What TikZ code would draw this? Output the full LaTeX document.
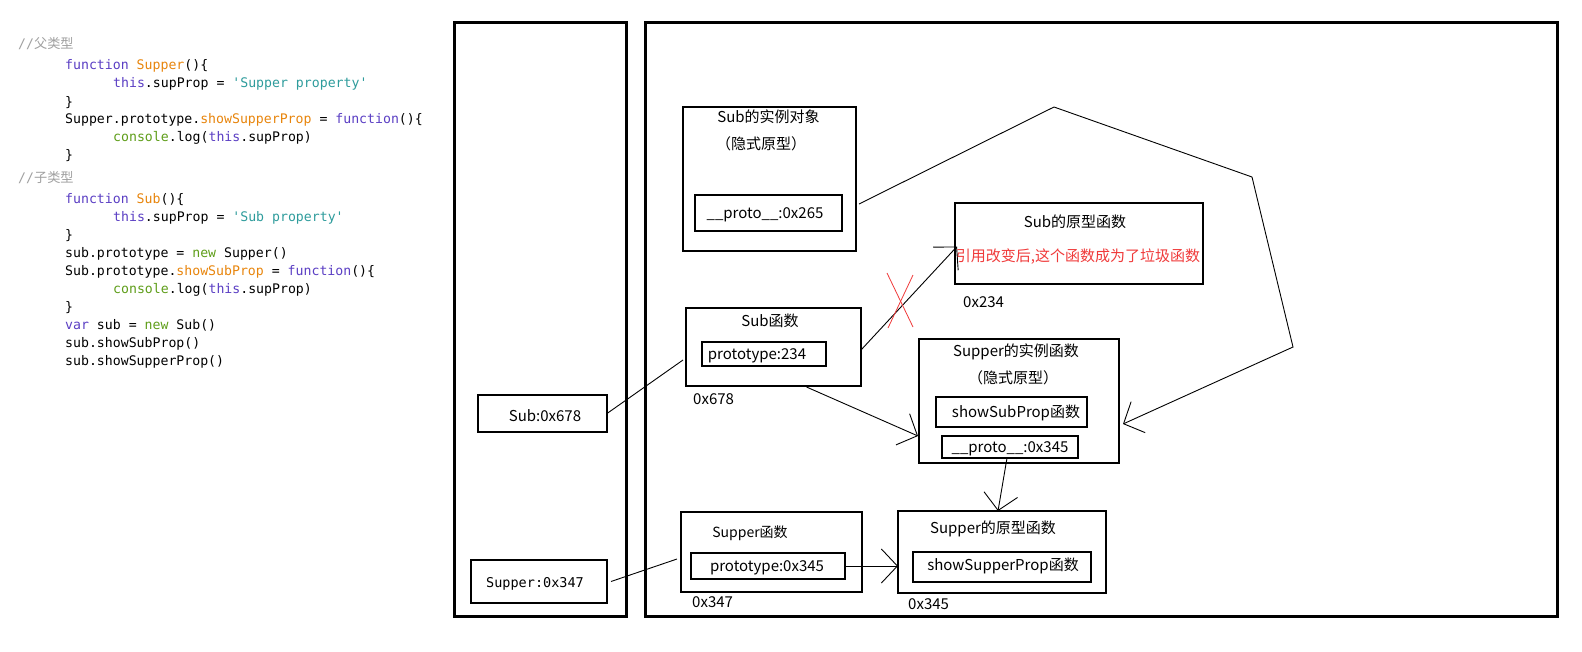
\documentclass[tikz,border=0pt]{standalone}
\usepackage{fontspec}
\setmainfont{Noto Sans CJK SC}
\newfontfamily\codefont{DejaVu Sans Mono}
\usetikzlibrary{arrows.meta,calc}

\definecolor{ckwc}{HTML}{5B3FC4}
\definecolor{cfnc}{HTML}{E8850C}
\definecolor{cstrc}{HTML}{2E9C9C}
\definecolor{cobjc}{HTML}{5F9E1A}
\definecolor{ccmtc}{HTML}{A0A0A0}
\definecolor{warnred}{HTML}{F03A3A}

\newcommand\ckw[1]{\textcolor{ckwc}{#1}}
\newcommand\cfn[1]{\textcolor{cfnc}{#1}}
\newcommand\cstr[1]{\textcolor{cstrc}{#1}}
\newcommand\cobj[1]{\textcolor{cobjc}{#1}}
\newcommand\sq{\textquotesingle}

\tikzset{
  codeline/.style={anchor=base west, inner sep=0pt, font=\codefont\fontsize{13.2}{16}\selectfont},
  cmtline/.style={codeline, text=ccmtc},
  frame/.style={draw, line width=3pt, inner sep=0pt, outer sep=0pt},
  box/.style={draw, line width=1.2pt, inner sep=0pt, outer sep=0pt},
  lbl/.style={anchor=base, inner sep=0pt, font=\fontsize{15}{18}\selectfont},
  addr/.style={anchor=base west, inner sep=0pt, font=\fontsize{15}{18}\selectfont},
  conn/.style={line width=0.9pt},
  arr/.style={conn, -{Straight Barb[length=16pt, width=34pt, line width=0.9pt]}},
  cross/.style={draw=warnred, line width=0.8pt},
}

\begin{document}
\begin{tikzpicture}[x=1pt, y=-1pt]
\useasboundingbox[fill=white] (0,0) rectangle (1582,651);

% ---- source code ----
\node[cmtline] (c1) at (18,48) {//{\rmfamily 父类型}};
\node[codeline] (c2) at (65,69) {\ckw{function} \cfn{Supper}()\{};
\node[codeline] (c3) at (113,87) {\ckw{this}.supProp = \cstr{\sq Supper property\sq}};
\node[codeline] (c4) at (65,106) {\}};
\node[codeline] (c5) at (65,123) {Supper.prototype.\cfn{showSupperProp} = \ckw{function}()\{};
\node[codeline] (c6) at (113,141) {\cobj{console}.log(\ckw{this}.supProp)};
\node[codeline] (c7) at (65,159) {\}};
\node[cmtline] (c8) at (18,182) {//{\rmfamily 子类型}};
\node[codeline] (c9) at (65,203) {\ckw{function} \cfn{Sub}()\{};
\node[codeline] (c10) at (113,221) {\ckw{this}.supProp = \cstr{\sq Sub property\sq}};
\node[codeline] (c11) at (65,239) {\}};
\node[codeline] (c12) at (65,257) {sub.prototype = \cobj{new} Supper()};
\node[codeline] (c13) at (65,275) {Sub.prototype.\cfn{showSubProp} = \ckw{function}()\{};
\node[codeline] (c14) at (113,293) {\cobj{console}.log(\ckw{this}.supProp)};
\node[codeline] (c15) at (65,311) {\}};
\node[codeline] (c16) at (65,329) {\ckw{var} sub = \cobj{new} Sub()};
\node[codeline] (c17) at (65,347) {sub.showSubProp()};
\node[codeline] (c18) at (65,365) {sub.showSupperProp()};

% ---- stack and heap frames ----
\node[frame, minimum width=172pt, minimum height=594pt] (stack) at (540.5,319.5) {};
\node[frame, minimum width=912pt, minimum height=594pt] (heap) at (1101.5,319.5) {};

% ---- variables on the stack ----
\node[box, minimum width=129pt, minimum height=37pt] (subvar) at (542.5,413.5) {};
\node[lbl] (subvartxt) at (545,421.5) {Sub:0x678};
\node[box, minimum width=136pt, minimum height=43pt] (supvar) at (539,581.5) {};
\node[anchor=base, inner sep=0pt, font=\codefont\fontsize{13.5}{16}\selectfont] (supvartxt) at (535,587) {Supper:0x347};

% ---- Sub instance ----
\node[box, minimum width=173pt, minimum height=144pt] (subinst) at (769.5,179) {};
\node[lbl] (subinstt) at (768.5,122.5) {Sub的实例对象};
\node[lbl] (subinsth) at (761,149.5) {（隐式原型）};
\node[box, minimum width=147pt, minimum height=36pt] (proto265) at (768.5,213) {};
\node[lbl] (proto265t) at (765,218.5) {\_\_proto\_\_:0x265};

% ---- old Sub prototype ----
\node[box, minimum width=248pt, minimum height=81pt] (subproto) at (1079,243.5) {};
\node[lbl] (subprotot) at (1075,227.5) {Sub的原型函数};
\node[lbl, text=warnred] (subprotow) at (1078,261.5) {引用改变后,这个函数成为了垃圾函数};
\node[addr] (addr234) at (963,307.5) {0x234};

% ---- Sub function ----
\node[box, minimum width=175pt, minimum height=78pt] (subfn) at (773.5,347) {};
\node[lbl] (subfnt) at (770,326.5) {Sub函数};
\node[box, minimum width=124pt, minimum height=24pt] (ptype234) at (764,354) {};
\node[lbl] (ptype234t) at (757,359) {prototype:234};
\node[addr] (addr678) at (693,404.5) {0x678};

% ---- Supper instance (new Sub prototype) ----
\node[box, minimum width=200pt, minimum height=124pt] (supinst) at (1019,401) {};
\node[lbl] (supinstt) at (1016,356.5) {Supper的实例函数};
\node[lbl] (supinsth) at (1013,383.5) {（隐式原型）};
\node[box, minimum width=151pt, minimum height=30pt] (showsub) at (1011.5,412) {};
\node[lbl] (showsubt) at (1016,417.5) {showSubProp函数};
\node[box, minimum width=136pt, minimum height=22pt] (proto345) at (1010,447) {};
\node[lbl] (proto345t) at (1010,452.5) {\_\_proto\_\_:0x345};

% ---- Supper function ----
\node[box, minimum width=181pt, minimum height=80pt] (supfn) at (771.5,552) {};
\node[lbl, font=\fontsize{14}{17}\selectfont] (supfnt) at (750,537) {Supper函数};
\node[box, minimum width=154pt, minimum height=26pt] (ptype345) at (768,566) {};
\node[lbl] (ptype345t) at (767,571.5) {prototype:0x345};
\node[addr] (addr347) at (692,607.5) {0x347};

% ---- Supper prototype ----
\node[box, minimum width=208pt, minimum height=82pt] (supproto) at (1002,552) {};
\node[lbl] (supprotot) at (993,533.5) {Supper的原型函数};
\node[box, minimum width=178pt, minimum height=30pt] (showsup) at (1002,567) {};
\node[lbl] (showsupt) at (1003,570.5) {showSupperProp函数};
\node[addr] (addr345) at (908,609.5) {0x345};

% ---- references ----
\draw[conn] (subvar.east) -- ($(subfn.west)+(-3,13)$);
\draw[conn] ($(supvar.east)+(4,0)$) -- ($(supfn.west)+(-4,7)$);
\draw[arr] ($(subfn.east)+(0,3)$) -- ($(subproto.west)+(2,3)$);
\draw[arr] ($(subfn.south)+(33,1)$) -- ($(supinst.west)+(-1,35)$);
\coordinate (bendA) at (1054,107);
\coordinate (bendB) at (1252,177);
\coordinate (bendC) at (1293,347);
\draw[arr] ($(subinst.east)+(3,25)$) -- (bendA) -- (bendB) -- (bendC) -- ($(supinst.east)+(4,23)$);
\draw[arr] ($(proto345.south)+(-3,0)$) -- ($(supproto.north)+(-4,0)$);
\draw[arr] (ptype345.east) -- (supproto.west |- ptype345.east);

% ---- broken link mark ----
\draw[cross] (887,273) -- (913,327);
\draw[cross] (913,275) -- (888,328);
\end{tikzpicture}
\end{document}
